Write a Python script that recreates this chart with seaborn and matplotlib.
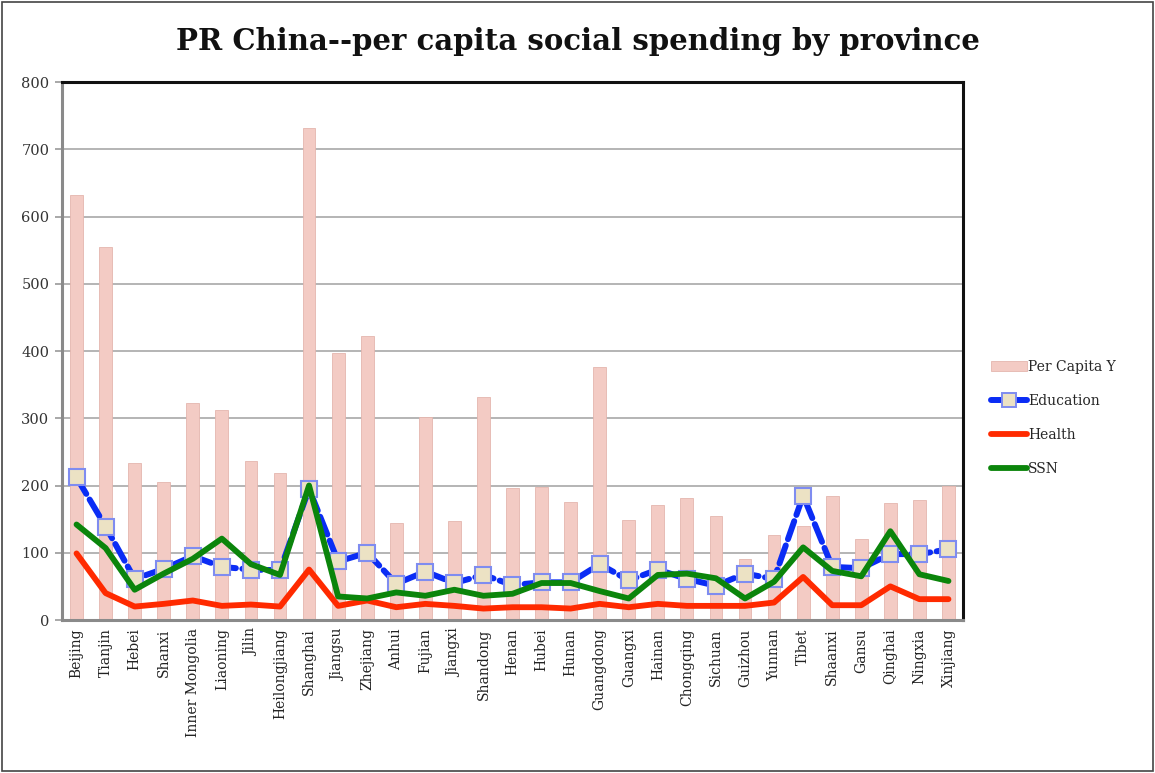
import matplotlib
matplotlib.use("Agg")
import matplotlib.pyplot as plt
import seaborn as sns
import numpy as np
from matplotlib.lines import Line2D
from matplotlib.patches import Patch, Rectangle

provinces = ["Beijing", "Tianjin", "Hebei", "Shanxi", "Inner Mongolia", "Liaoning", "Jilin",
             "Heilongjiang", "Shanghai", "Jiangsu", "Zhejiang", "Anhui", "Fujian", "Jiangxi",
             "Shandong", "Henan", "Hubei", "Hunan", "Guangdong", "Guangxi", "Hainan",
             "Chongqing", "Sichuan", "Guizhou", "Yunnan", "Tibet", "Shaanxi", "Gansu",
             "Qinghai", "Ningxia", "Xinjiang"]
per_capita_y = [632, 555, 234, 205, 323, 313, 236, 218, 732, 397, 423, 144, 302, 147, 331, 196,
                198, 176, 376, 149, 171, 181, 155, 90, 127, 140, 185, 121, 174, 179, 200]
education = [212, 139, 61, 76, 95, 79, 75, 74, 195, 87, 100, 54, 72, 55, 67, 52, 56, 56, 83, 59,
             75, 61, 51, 69, 61, 185, 79, 77, 98, 98, 105]
health = [99, 40, 20, 24, 29, 21, 23, 20, 75, 21, 29, 19, 24, 21, 17, 19, 19, 17, 24, 19, 24, 21,
          21, 21, 26, 64, 22, 22, 50, 31, 31]
ssn = [142, 107, 45, 69, 91, 121, 83, 67, 200, 35, 32, 41, 36, 45, 36, 39, 55, 55, 43, 32, 67, 69,
       62, 32, 57, 108, 73, 65, 132, 68, 58]
y_ticks = [0, 100, 200, 300, 400, 500, 600, 700, 800]
title = "PR China--per capita social spending by province"
legend_labels = ["Per Capita Y", "Education", "Health", "SSN"]

BAR_C = "#f3cbc4"
EDU_C = "#0a2cf5"
EDU_FACE = "#ece2c4"
EDU_EDGE = "#7f8cf0"
HEALTH_C = "#ff2a00"
SSN_C = "#0b850b"

sns.set_style("white")
plt.rcParams["font.family"] = ["DejaVu Serif"]

fig = plt.figure(figsize=(11.55, 7.73), dpi=100)
ax = fig.add_axes([62 / 1155, 153 / 773, 901 / 1155, 538 / 773])

sns.barplot(x=provinces, y=per_capita_y, order=provinces, color=BAR_C, saturation=1,
            width=0.44, ax=ax, zorder=2)
for p in ax.patches:
    p.set_facecolor(BAR_C)
    p.set_edgecolor("#e4b6ae")
    p.set_linewidth(0.6)

n_before = len(ax.lines)
sns.pointplot(x=provinces, y=health, order=provinces, color=HEALTH_C, markers="",
              errorbar=None, ax=ax)
sns.pointplot(x=provinces, y=education, order=provinces, color=EDU_C, markers="s",
              errorbar=None, ax=ax)
sns.pointplot(x=provinces, y=ssn, order=provinces, color=SSN_C, markers="",
              errorbar=None, ax=ax)
lines = ax.lines[n_before:]
hl, el, sl = lines[0], lines[1], lines[2]
hl.set_linewidth(4.2); hl.set_zorder(4); hl.set_solid_capstyle("round"); hl.set_solid_joinstyle("round")
sl.set_linewidth(4.2); sl.set_zorder(6); sl.set_solid_capstyle("round"); sl.set_solid_joinstyle("round")
el.set_linewidth(4.3); el.set_zorder(5)
el.set_linestyle((0, (3.2, 1.1)))
el.set_dash_capstyle("round")
el.set_marker("s")
el.set_markersize(11.5)
el.set_markerfacecolor(EDU_FACE)
el.set_markeredgecolor(EDU_EDGE)
el.set_markeredgewidth(1.5)

ax.set_xlim(-0.5, len(provinces) - 0.5)
ax.set_ylim(0, 800)
ax.set_yticks(y_ticks)
ax.set_yticklabels([str(v) for v in y_ticks], fontsize=10.5, color="#333333")
ax.set_xticks(range(len(provinces)))
ax.set_xticklabels(provinces, rotation=90, fontsize=10, color="#222222")
ax.set_xlabel("")
ax.set_ylabel("")
ax.tick_params(axis="x", which="major", length=0, pad=6)
ax.set_xticks(np.arange(-0.5, len(provinces), 1.0), minor=True)
ax.tick_params(axis="x", which="minor", length=5, color="#999999", width=1.2, direction="out")
ax.tick_params(axis="y", which="major", length=5, color="#999999", width=1.2, direction="out", left=True, pad=4)

ax.set_axisbelow(True)
ax.yaxis.grid(True, color="#a8a8a8", linewidth=1.2, zorder=0)
ax.xaxis.grid(False)

for side in ["left", "bottom"]:
    ax.spines[side].set_color("#8a8a8a")
    ax.spines[side].set_linewidth(2.2)
for side in ["top", "right"]:
    ax.spines[side].set_color("#111111")
    ax.spines[side].set_linewidth(2.2)
    ax.spines[side].set_visible(True)

fig.text(0.5, 0.946, title, ha="center", va="center", fontsize=21, fontweight="bold",
         color="#111111")

handles = [
    Patch(facecolor=BAR_C, edgecolor="#e4b6ae", linewidth=0.6),
    Line2D([], [], color=EDU_C, linewidth=4.3, marker="s", markersize=10,
           markerfacecolor=EDU_FACE, markeredgecolor=EDU_EDGE, markeredgewidth=1.4),
    Line2D([], [], color=HEALTH_C, linewidth=4.2),
    Line2D([], [], color=SSN_C, linewidth=4.2),
]
fig.legend(handles, legend_labels, loc="center left", bbox_to_anchor=(985 / 1155, 1 - 418 / 773),
           frameon=False, fontsize=10, handlelength=2.6, handletextpad=0.1, labelspacing=1.45,
           borderaxespad=0)

fig.patches.append(Rectangle((0.002, 0.003), 0.996, 0.994, transform=fig.transFigure,
                             fill=False, edgecolor="#444444", linewidth=1.2))

fig.savefig("out.png", dpi=100)
